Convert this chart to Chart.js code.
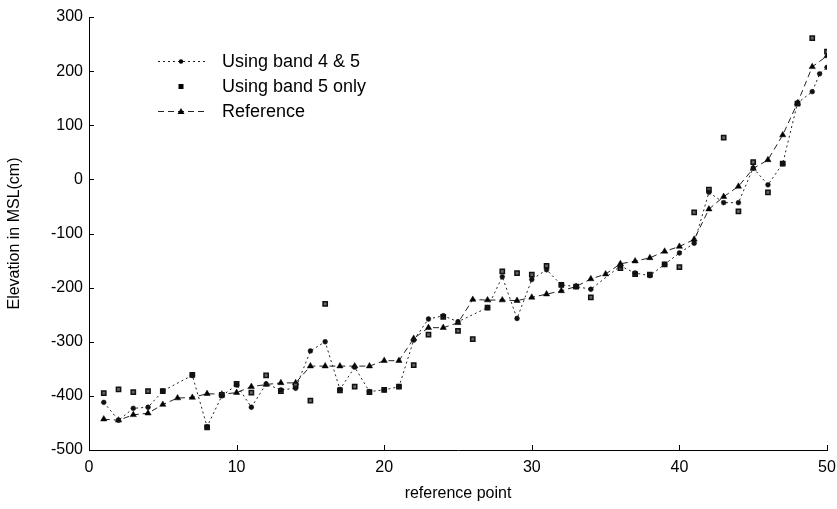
<!DOCTYPE html>
<html>
<head>
<meta charset="utf-8">
<script src="https://cdn.jsdelivr.net/npm/chart.js@4/dist/chart.umd.min.js"></script>
<style>
  html, body { margin: 0; padding: 0; background: #fff; }
  #wrap { width: 837px; height: 509px; position: relative; }
</style>
</head>
<body>
<div id="wrap"><canvas id="c" width="837" height="509"></canvas></div>
<script>
// ---- Data ----
const seriesNames = ['Using band 4 & 5', 'Using band 5 only', 'Reference'];

// Using band 4 & 5 (circles, dotted line)
const band45X = [1, 2, 3, 4, 5, 7, 8, 9, 10, 11, 12, 13, 14, 15, 16, 17, 18, 19, 20, 21, 22, 23, 24, 25, 27, 28, 29, 30, 31, 32, 33, 34, 36, 37, 38, 39, 40, 41, 42, 43, 44, 45, 46, 47, 48, 49, 49.5, 50];
const band45Y = [-412, -445, -423, -421, -391, -362, -457, -400, -380, -421, -378, -389, -386, -317, -300, -388, -347, -392, -389, -383, -297, -258, -252, -263, -237, -180, -257, -185, -167, -195, -198, -203, -160, -173, -178, -157, -136, -118, -24, -43, -43, 21, -10, 29, 141, 162, 195, 207];

// Using band 5 only (squares, no line)
const band5X = [1, 2, 3, 4, 5, 7, 8, 9, 10, 11, 12, 13, 14, 15, 16, 17, 18, 19, 20, 21, 22, 23, 24, 25, 26, 27, 28, 29, 30, 31, 32, 33, 34, 36, 37, 38, 39, 40, 41, 42, 43, 44, 45, 46, 47, 48, 49, 50];
const band5Y = [-395, -388, -393, -391, -391, -361, -458, -398, -378, -394, -362, -391, -380, -409, -230, -390, -383, -393, -389, -383, -343, -287, -254, -280, -295, -237, -170, -173, -176, -160, -195, -198, -218, -164, -175, -176, -157, -162, -61, -19, 77, -59, 32, -24, 29, 140, 261, 236];

// Reference (triangles, dashed line)
const refX = [1, 2, 3, 4, 5, 6, 7, 8, 9, 10, 11, 12, 13, 14, 15, 16, 17, 18, 19, 20, 21, 22, 23, 24, 25, 26, 27, 28, 29, 30, 31, 32, 33, 34, 35, 36, 37, 38, 39, 40, 41, 42, 43, 44, 45, 46, 47, 48, 49, 50];
const refY = [-443, -445, -435, -432, -416, -404, -403, -396, -397, -394, -383, -379, -376, -376, -345, -345, -345, -345, -345, -335, -335, -294, -274, -274, -265, -222, -223, -223, -224, -218, -212, -206, -198, -184, -175, -156, -151, -145, -133, -124, -111, -55, -32, -13, 20, 36, 82, 141, 208, 228];

const xTicks = [0, 10, 20, 30, 40, 50];
const yTicks = [-500, -400, -300, -200, -100, 0, 100, 200, 300];
const xTitle = 'reference point';
const yTitle = 'Elevation in MSL(cm)';

const toPts = (xs, ys) => xs.map((x, i) => ({ x: x, y: ys[i] }));

const FONT = '"Liberation Sans", Arial, Helvetica, sans-serif';

// inward tick marks
const innerTicks = {
  id: 'innerTicks',
  afterDraw(chart) {
    const { ctx, scales: { x, y }, chartArea } = chart;
    ctx.save();
    ctx.strokeStyle = '#000';
    ctx.lineWidth = 1;
    xTicks.forEach(v => {
      const px = Math.round(x.getPixelForValue(v)) + 0.5;
      ctx.beginPath();
      ctx.moveTo(px, chartArea.bottom);
      ctx.lineTo(px, chartArea.bottom - 5);
      ctx.stroke();
    });
    yTicks.forEach(v => {
      const py = Math.round(y.getPixelForValue(v)) + 0.5;
      ctx.beginPath();
      ctx.moveTo(chartArea.left, py);
      ctx.lineTo(chartArea.left + 5, py);
      ctx.stroke();
    });
    ctx.restore();
  }
};

// legend drawn in top-left of plot area, like the reference
const innerLegend = {
  id: 'innerLegend',
  afterDraw(chart) {
    const ctx = chart.ctx;
    const rows = [61, 86, 111];
    const x0 = 158, x1 = 205, xm = 181, tx = 222;
    ctx.save();
    ctx.font = '18px ' + FONT;
    ctx.fillStyle = '#000';
    ctx.textBaseline = 'middle';
    chart.data.datasets.forEach((ds, i) => {
      const yy = rows[i] + 0.5;
      if (ds.showLine) {
        ctx.strokeStyle = ds.borderColor;
        ctx.lineWidth = 1;
        ctx.setLineDash(ds.borderDash || []);
        ctx.beginPath();
        ctx.moveTo(x0, yy);
        ctx.lineTo(x1, yy);
        ctx.stroke();
        ctx.setLineDash([]);
      }
      ctx.fillStyle = '#000';
      if (ds.pointStyle === 'circle') {
        ctx.beginPath(); ctx.arc(xm, yy, 2.2, 0, Math.PI * 2); ctx.fill();
      } else if (ds.pointStyle === 'rect') {
        ctx.fillRect(xm - 2.5, yy - 2.5, 5, 5);
      } else {
        ctx.beginPath();
        ctx.moveTo(xm, yy - 3.5); ctx.lineTo(xm + 3.5, yy + 2.5); ctx.lineTo(xm - 3.5, yy + 2.5);
        ctx.closePath(); ctx.fill();
      }
      ctx.fillText(ds.label, tx, yy + 1);
    });
    ctx.restore();
  }
};

new Chart(document.getElementById('c'), {
  type: 'scatter',
  data: {
    datasets: [
      {
        label: seriesNames[0],
        data: toPts(band45X, band45Y),
        showLine: true,
        borderColor: '#222',
        borderWidth: 1,
        borderDash: [2, 3],
        pointStyle: 'circle',
        pointRadius: 2.4,
        pointBackgroundColor: '#111',
        pointBorderColor: '#111',
        pointBorderWidth: 0.5
      },
      {
        label: seriesNames[1],
        data: toPts(band5X, band5Y),
        showLine: false,
        borderColor: '#111',
        pointStyle: 'rect',
        pointRadius: 3,
        pointBackgroundColor: '#666',
        pointBorderColor: '#111',
        pointBorderWidth: 1.5
      },
      {
        label: seriesNames[2],
        data: toPts(refX, refY),
        showLine: true,
        borderColor: '#222',
        borderWidth: 1,
        borderDash: [6, 4],
        pointStyle: 'triangle',
        pointRadius: 3.6,
        pointBackgroundColor: '#000',
        pointBorderColor: '#000',
        pointBorderWidth: 0.5
      }
    ]
  },
  options: {
    responsive: false,
    animation: false,
    devicePixelRatio: 1,
    layout: { padding: { left: 0, right: 10, top: 17, bottom: 0 } },
    plugins: {
      legend: { display: false },
      tooltip: { enabled: false }
    },
    scales: {
      x: {
        type: 'linear',
        min: 0, max: 50,
        afterBuildTicks: (s) => { s.ticks = xTicks.map(v => ({ value: v })); },
        afterFit: (s) => { s.height = 59; s.paddingRight = 0; s.paddingLeft = 0; },
        grid: { display: false, drawTicks: false },
        border: { display: true, color: '#000', width: 1 },
        ticks: { color: '#000', font: { family: FONT, size: 16 }, padding: 8, maxRotation: 0 },
        title: { display: true, text: xTitle, color: '#000', font: { family: FONT, size: 16 }, padding: { top: 0, bottom: 6 } }
      },
      y: {
        type: 'linear',
        min: -500, max: 300,
        afterBuildTicks: (s) => { s.ticks = yTicks.map(v => ({ value: v })); },
        afterFit: (s) => { s.width = 89; s.paddingTop = 0; s.paddingBottom = 0; },
        grid: { display: false, drawTicks: false },
        border: { display: true, color: '#000', width: 1 },
        ticks: { color: '#000', font: { family: FONT, size: 16 }, padding: 6 },
        title: { display: true, text: yTitle, color: '#000', font: { family: FONT, size: 16 }, padding: { top: 5, bottom: 0 } }
      }
    }
  },
  plugins: [innerTicks, innerLegend]
});
</script>
</body>
</html>
